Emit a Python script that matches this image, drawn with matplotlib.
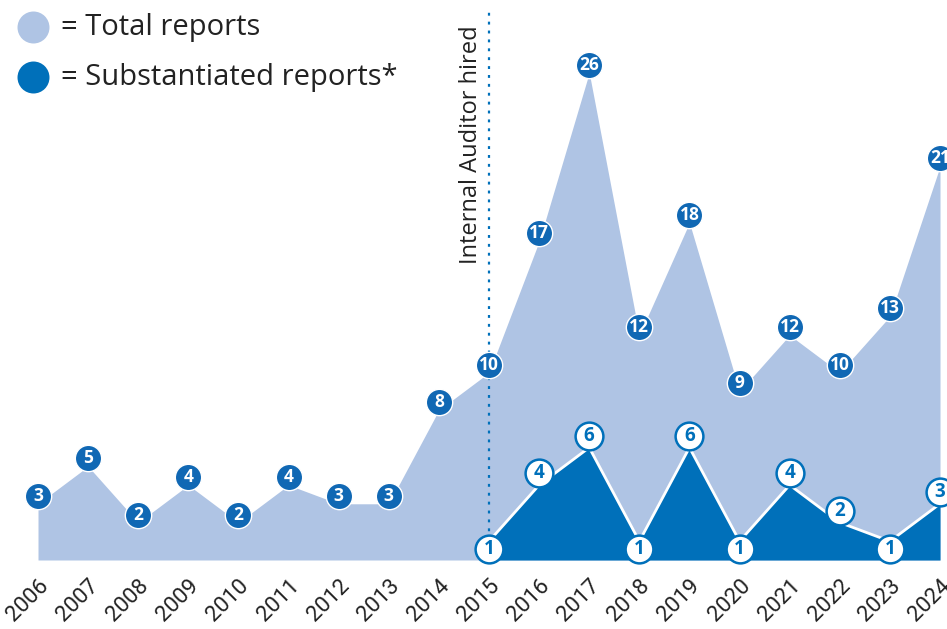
import matplotlib
matplotlib.use("Agg")
import matplotlib.pyplot as plt
from matplotlib.transforms import ScaledTranslation

years = list(range(2006, 2025))
total = [3, 5, 2, 4, 2, 4, 3, 3, 8, 10, 17, 26, 12, 18, 9, 12, 10, 13, 21]
sub_years = list(range(2015, 2025))
substantiated = [1, 4, 6, 1, 6, 1, 4, 2, 1, 3]

LIGHT = "#AFC4E4"
DARK = "#0070BA"
MARK = "#1068B4"
TXT = "#222222"

plt.rcParams['font.family'] = ['Open Sans', 'DejaVu Sans']

fig = plt.figure(figsize=(9.47, 6.29), dpi=100)
ax = fig.add_axes([0, 69/629, 1, 560/629])
ax.set_xlim(2006 - 38/50.1, 2024 + 7/50.1)
ax.set_ylim(0, 560/18.74)
for s in ax.spines.values():
    s.set_visible(False)
ax.set_yticks([])

ax.fill_between(years, total, 0, color=LIGHT, lw=0, zorder=1)
ax.fill_between(sub_years, substantiated, 0, color=DARK, lw=0, zorder=2)
ax.plot(sub_years, substantiated, color="white", lw=2, zorder=3)

ax.axvline(2015, ymin=0.02, ymax=0.985, color=DARK, ls=(0, (1.3, 2.7)), lw=1.6, zorder=2.5)
ax.text(2015 - 0.36, 29.88 - 25/18.74, "Internal Auditor hired", rotation=90,
        ha="center", va="top", fontsize=17, color=TXT)

def shift(dy_px):
    return ax.transData + ScaledTranslation(0, dy_px/100, fig.dpi_scale_trans)

for x, v in zip(years, total):
    tr = shift(8)
    ax.scatter([x], [v], s=360, color=MARK, edgecolor="white", lw=1, zorder=5,
               clip_on=False, transform=tr)
    ax.text(x, v, str(v), ha="center", va="center", fontsize=12.5, fontweight="bold",
            color="white", zorder=6, transform=tr)

for x, v in zip(sub_years, substantiated):
    tr = shift(12 if v > 1 else -8)
    ax.scatter([x], [v], s=400, color="white", edgecolor=DARK, lw=1.8, zorder=5,
               clip_on=False, transform=tr)
    ax.text(x, v, str(v), ha="center", va="center", fontsize=13.5, fontweight="bold",
            color=DARK, zorder=6, transform=tr)

ax.set_xticks(years)
ax.set_xticklabels([str(y) for y in years], rotation=45, ha="right", va="top",
                   rotation_mode="anchor", fontsize=16, color=TXT, family="Roboto")
ax.tick_params(axis="x", length=0, pad=11)

# legend
lg = fig.add_axes([0, 0, 1, 1], facecolor="none")
lg.set_xlim(0, 947)
lg.set_ylim(629, 0)
lg.axis("off")
lg.scatter([33], [27], s=530, color=LIGHT, lw=0)
lg.scatter([33], [77], s=530, color=DARK, lw=0)
lg.text(61, 28, "= Total reports", ha="left", va="center", fontsize=21, color=TXT)
lg.text(61, 77, "= Substantiated reports*", ha="left", va="center", fontsize=21, color=TXT)

fig.savefig("out.png", dpi=100)
